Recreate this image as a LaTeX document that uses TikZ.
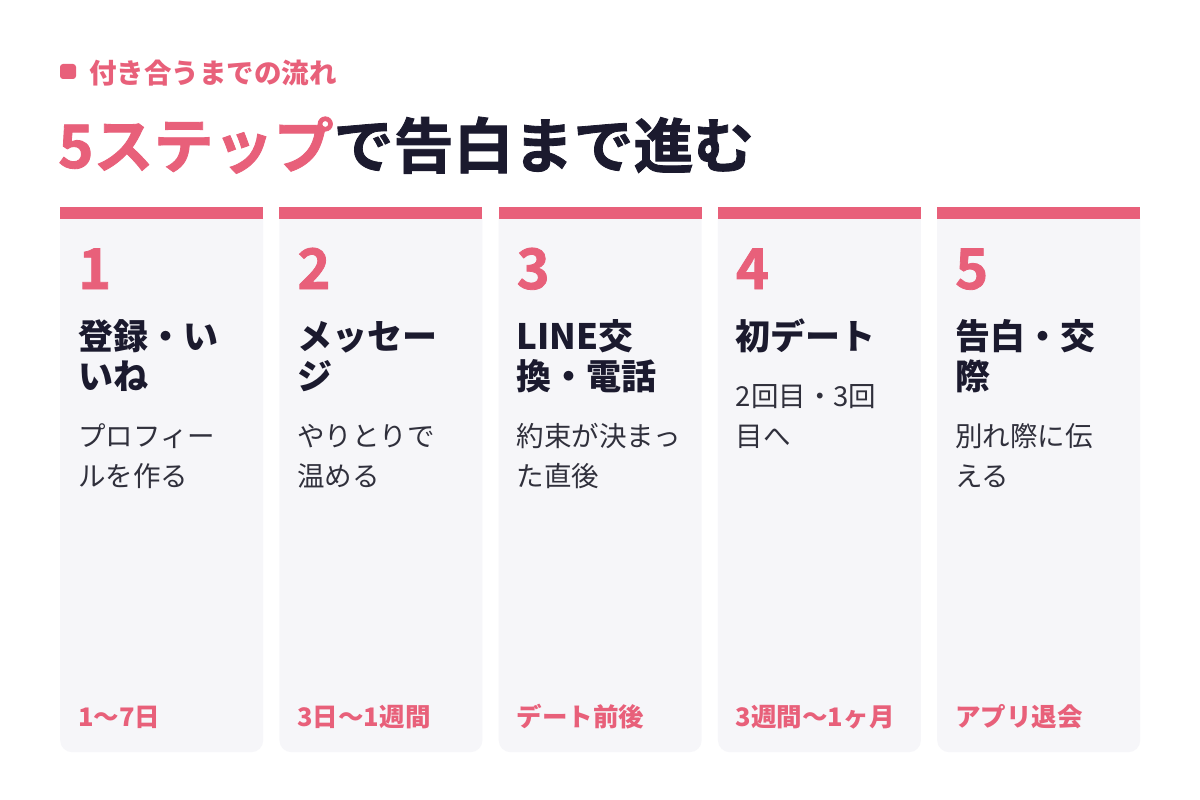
\documentclass[tikz,border=0pt]{standalone}
\usepackage{fontspec}
\setmainfont{Noto Sans CJK JP}
\newfontfamily\heavyfont{Noto Sans CJK JP}[UprightFont=* Bold, FakeBold=1.4]
\usetikzlibrary{positioning}

\definecolor{stepPink}{HTML}{E8607A}
\definecolor{stepInk}{HTML}{1B1A2E}
\definecolor{stepText}{HTML}{30303C}
\definecolor{cardBg}{HTML}{F6F6F9}

\begin{document}
\begin{tikzpicture}[x=1pt,y=-1pt]

% Define block styles
\tikzstyle{card} = [rectangle, rounded corners=12pt, fill=cardBg, minimum width=203pt, minimum height=545pt, inner sep=0pt]
\tikzstyle{stepnum} = [anchor=base west, inner sep=0pt, text=stepPink, font=\heavyfont\fontsize{56}{56}\selectfont]
\tikzstyle{steptitle} = [anchor=base west, inner sep=0pt, align=left, text=stepInk, font=\bfseries\fontsize{35}{40}\selectfont]
\tikzstyle{stepdesc} = [anchor=base west, inner sep=0pt, align=left, text=stepText, font=\fontsize{27.5}{40}\selectfont]
\tikzstyle{stepdur} = [anchor=base west, inner sep=0pt, text=stepPink, font=\bfseries\fontsize{25.5}{25.5}\selectfont]

\useasboundingbox (0,0) rectangle (1200,800);
\fill[white] (0,0) rectangle (1200,800);

% Heading
\node (bullet) [rectangle, rounded corners=3pt, fill=stepPink, minimum width=16pt, minimum height=15pt, inner sep=0pt] at (68,71.5) {};
\node (kicker) [anchor=base west, inner sep=0pt, text=stepPink, font=\bfseries\fontsize{27.5}{27.5}\selectfont] at (89,84) {付き合うまでの流れ};
\node (headline) [anchor=base west, inner sep=0pt, text=stepInk, font=\heavyfont\fontsize{60}{60}\selectfont] at (58,168) {\textcolor{stepPink}{5ステップ}で告白まで進む};

% Define cards (base y of the last title line)
\foreach \i/\ty/\ttl/\desc/\dur in {1/389/{登録・い\\いね}/{プロフィー\\ルを作る}/{1〜7日},
                                    2/389/{メッセー\\ジ}/{やりとりで\\温める}/{3日〜1週間},
                                    3/389/{LINE交\\換・電話}/{約束が決まっ\\た直後}/{デート前後},
                                    4/349/{初デート}/{2回目・3回\\目へ}/{3週間〜1ヶ月},
                                    5/389/{告白・交\\際}/{別れ際に伝\\える}/{アプリ退会}} {
  \pgfmathsetmacro{\cx}{60+(\i-1)*219.25}
  \node (card\i) [card, anchor=north west] at (\cx,207) {};
  \fill[stepPink] (card\i.north west) rectangle ++(203,12);
  \node (num\i) [stepnum] at (\cx+18,289) {\i};
  \node (title\i) [steptitle] at (\cx+18,\ty) {\ttl};
  \node (desc\i) [stepdesc] at (\cx+18,\ty+97) {\desc};
  \node (dur\i) [stepdur] at (\cx+18,726) {\dur};
}

\end{tikzpicture}
\end{document}
